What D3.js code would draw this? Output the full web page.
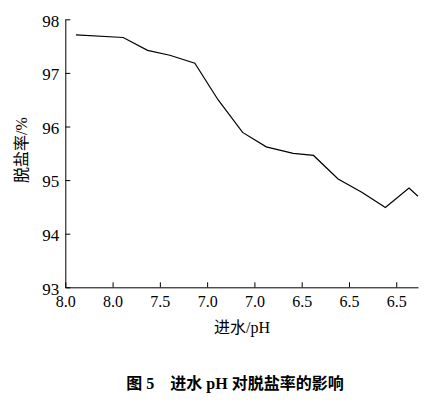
<!DOCTYPE html><html><head><meta charset="utf-8"><script src="https://cdn.jsdelivr.net/npm/d3@7"></script>
<style>body{margin:0;background:#fff}text{font-family:"Liberation Serif","Noto Sans CJK SC",serif}</style></head><body><svg id="c" width="440" height="408"></svg>
<script>
const tickLabels=["8.0","8.0","7.5","7.0","7.0","6.5","6.5","6.5"];
const xIdx=[0.225,1.225,1.74,2.21,2.74,3.23,3.75,4.25,4.82,5.25,5.77,6.28,6.77,7.27,7.46];
const rate=[97.71,97.66,97.42,97.33,97.18,96.50,95.89,95.62,95.50,95.46,95.02,94.77,94.49,94.85,94.70];
const yTicks=[93,94,95,96,97,98];
const svg=d3.select("#c");
const x=d3.scaleLinear().domain([0,7.46]).range([65.3,418]);
const y=d3.scaleLinear().domain([93,98]).range([287.3,19.3]);
const gx=svg.append("g").attr("transform","translate(0,287.3)").call(d3.axisBottom(x).tickValues(d3.range(8)).tickFormat(i=>tickLabels[i]).tickSize(-5).tickSizeOuter(0).tickPadding(8));
const gy=svg.append("g").attr("transform","translate(65.3,0)").call(d3.axisLeft(y).tickValues(yTicks).tickFormat(d3.format("d")).tickSize(-5).tickSizeOuter(0).tickPadding(6));
[gx,gy].forEach(g=>{g.selectAll("path,line").attr("stroke","#000");g.selectAll("text").attr("font-size",16).attr("fill","#000").attr("font-family","Liberation Serif");});
gy.selectAll("text").attr("font-size",17).attr("dy","0.4em");
svg.append("path").datum(xIdx.map((v,i)=>[v,rate[i]])).attr("fill","none").attr("stroke","#000").attr("stroke-width",1.2)
 .attr("d",d3.line().x(d=>x(d[0])).y(d=>y(d[1])));
svg.append("text").attr("x",242).attr("y",333).attr("text-anchor","middle").attr("font-size",16).text("进水/pH");
svg.append("text").attr("transform","translate(27,150) rotate(-90)").attr("text-anchor","middle").attr("font-size",16).text("脱盐率/%");
svg.append("text").attr("x",235).attr("y",389).attr("text-anchor","middle").attr("font-size",16).attr("font-weight","bold").attr("font-family","Noto Sans CJK SC").attr("xml:space","preserve").text("图 5    进水 pH 对脱盐率的影响");
</script></body></html>
